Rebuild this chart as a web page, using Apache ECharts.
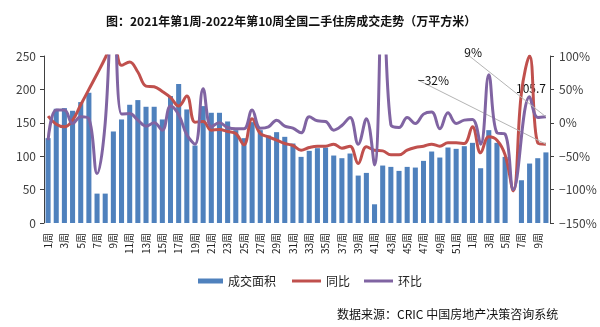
<!DOCTYPE html>
<html>
<head>
<meta charset="utf-8">
<script src="https://cdn.jsdelivr.net/npm/echarts@6/dist/echarts.min.js"></script>
<style>
  html, body { margin: 0; padding: 0; background: #fff; }
  #chart { width: 600px; height: 327px; }
</style>
</head>
<body>
<div id="chart"></div>
<script>
// 2021 W1 – 2022 W10
const weeks = [
  '1周','2周','3周','4周','5周','6周','7周','8周','9周','10周',
  '11周','12周','13周','14周','15周','16周','17周','18周','19周','20周',
  '21周','22周','23周','24周','25周','26周','27周','28周','29周','30周',
  '31周','32周','33周','34周','35周','36周','37周','38周','39周','40周',
  '41周','42周','43周','44周','45周','46周','47周','48周','49周','50周',
  '51周','52周',
  '1周','2周','3周','4周','5周','6周','7周','8周','9周','10周'
];

// 成交面积（万平方米）
const area = [
  127, 171, 172, 168, 181, 195, 44, 44, 137, 155,
  177, 184, 174, 174, 155, 190, 208, 170, 116, 175,
  165, 165, 152, 139, 127, 151, 139, 131, 136, 129,
  119, 99, 108, 112, 113, 101, 97, 104, 71, 75,
  28, 86, 84, 78, 84, 83, 93, 107, 98, 113,
  111, 115,
  120, 82, 139, 120, 99, 0, 64, 89, 97, 105.7
];

// 同比（%）
const yoy = [
  10, -2, -6, 4, 27, 50, 73, 97, 125, 86,
  91, 76, 55, 54, 47, 38, 25, 40, 1, 2,
  -11, -10, -13, -16, -33, 6, -16, -21, -26, -31,
  -34, -41, -37, -35, -35, -32, -38, -35, -61, -36,
  -41, -42, -48, -48, -41, -37, -35, -32, -35, -30,
  -30, -31,
  -6, -45, -21, -26, -48, -102, 45, 100, -30, -32
];

// 环比（%）
const mom = [
  -26, 19, 19, -1, 9, 6, -76, 0, 211, 13,
  14, 4, -5, 0, -11, 25, 12, -18, -32, 51,
  -6, 0, -7, -9, -9, 19, -8, -6, 4, -5,
  -8, -15, 9, 3, 2, -11, -4, 8, -32, 6,
  -63, 207, -3, -7, 8, -1, 13, 16, -9, 15,
  -1, 4,
  5, -32, 72, -15, -17, -100, null, 39, 8, 9
];

const leftTicks = { min: 0, max: 250, step: 50 };
const rightTicks = { min: -150, max: 100, step: 50 };

const BLUE = '#4F81BD', RED = '#C0504D', PURPLE = '#8064A2';
const last = area.length - 1;

function withEndLabel(arr, fmt) {
  return arr.map((v, i) => i === last
    ? { value: v, label: { show: true, formatter: fmt(v) } }
    : v);
}

const pct = v => String(v).replace('-', '−') + '%';

const chart = echarts.init(document.getElementById('chart'), null, { renderer: 'canvas' });

chart.setOption({
  animation: false,
  backgroundColor: '#fff',
  textStyle: { fontFamily: '"Noto Sans CJK SC", "Liberation Sans", sans-serif' },
  title: {
    text: '图：2021年第1周-2022年第10周全国二手住房成交走势（万平方米）',
    left: 101, top: 10,
    textStyle: { fontSize: 12, fontWeight: 'bold', color: '#111',
      fontFamily: '"Noto Sans CJK SC", sans-serif' }
  },
  legend: [{
    left: 193, top: 270,
    itemWidth: 25, itemHeight: 5,
    textStyle: { fontSize: 12, color: '#222' },
    data: [{ name: '成交面积', icon: 'rect' }]
  }, {
    left: 287, top: 270,
    itemWidth: 29, itemHeight: 3, itemGap: 14,
    textStyle: { fontSize: 12, color: '#222' },
    data: [{ name: '同比', icon: 'rect' }, { name: '环比', icon: 'rect' }]
  }],
  graphic: [{
    type: 'text', left: 337, top: 308,
    style: { text: '数据来源：CRIC 中国房地产决策咨询系统', fontSize: 12, fill: '#111',
      fontFamily: '"Noto Sans CJK SC", sans-serif' }
  }],
  grid: { left: 44, right: 50, top: 56, bottom: 104 },
  xAxis: {
    type: 'category',
    data: weeks,
    axisLine: { show: false },
    axisTick: { show: false },
    axisLabel: { interval: 1, rotate: 90, fontSize: 10, color: '#222', margin: 10 }
  },
  yAxis: [{
    type: 'value',
    min: leftTicks.min, max: leftTicks.max, interval: leftTicks.step,
    axisLine: { show: true, lineStyle: { color: '#404040' } },
    axisTick: { show: true, length: 4, lineStyle: { color: '#404040' } },
    splitLine: { show: false },
    axisLabel: { fontSize: 12, color: '#404040', margin: 8 }
  }, {
    type: 'value',
    min: rightTicks.min, max: rightTicks.max, interval: rightTicks.step,
    position: 'right',
    axisLine: { show: true, lineStyle: { color: '#404040' } },
    axisTick: { show: true, length: 4, lineStyle: { color: '#404040' } },
    splitLine: { show: false },
    axisLabel: { fontSize: 12, color: '#404040', margin: 9, formatter: pct }
  }],
  series: [{
    name: '成交面积',
    type: 'bar',
    yAxisIndex: 0,
    barCategoryGap: '38%',
    itemStyle: { color: BLUE },
    data: withEndLabel(area, v => String(v)),
    label: { color: '#111', fontSize: 12 },
    labelLayout: p => p.dataIndex === last
      ? { x: 531, y: 88, align: 'center', verticalAlign: 'middle' } : {}
  }, {
    name: '同比',
    type: 'line',
    yAxisIndex: 1,
    smooth: 0.4,
    symbol: 'circle',
    symbolSize: 0,
    showAllSymbol: true,
    lineStyle: { color: RED, width: 3 },
    itemStyle: { color: RED },
    z: 3,
    data: withEndLabel(yoy, pct),
    label: { color: '#111', fontSize: 12 },
    labelLine: { show: true, length2: 10, lineStyle: { color: '#b4b4b4', width: 1 } },
    labelLayout: p => p.dataIndex === last
      ? { x: 449, y: 80, align: 'right', verticalAlign: 'middle' } : {}
  }, {
    name: '环比',
    type: 'line',
    yAxisIndex: 1,
    smooth: 0.4,
    symbol: 'circle',
    symbolSize: 0,
    showAllSymbol: true,
    connectNulls: true,
    lineStyle: { color: PURPLE, width: 3 },
    itemStyle: { color: PURPLE },
    z: 4,
    data: withEndLabel(mom, v => v + '%'),
    label: { color: '#111', fontSize: 12 },
    labelLine: { show: true, length2: 10, lineStyle: { color: '#b4b4b4', width: 1 } },
    labelLayout: p => p.dataIndex === last
      ? { x: 482, y: 52, align: 'right', verticalAlign: 'middle' } : {}
  }]
});
</script>
</body>
</html>
